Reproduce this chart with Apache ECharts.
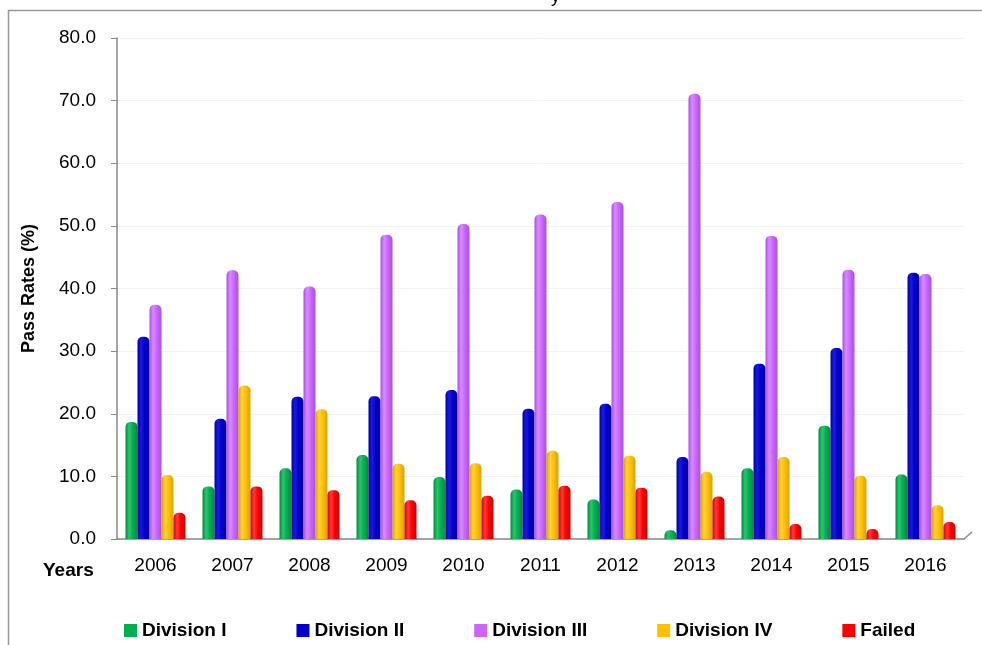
<!DOCTYPE html>
<html><head><meta charset="utf-8">
<script src="https://cdn.jsdelivr.net/npm/echarts@6/dist/echarts.min.js"></script>
<style>html,body{margin:0;padding:0;background:#fff}#c{width:982px;height:645px}</style>
</head><body><div id="c"></div>
<script>
var years = ['2006','2007','2008','2009','2010','2011','2012','2013','2014','2015','2016'];
var yTicks = [0,10,20,30,40,50,60,70,80];
var seriesNames = ['Division I','Division II','Division III','Division IV','Failed'];
var divisionI   = [18.7, 8.4, 11.3, 13.4, 9.9, 7.9, 6.3, 1.4, 11.3, 18.1, 10.3];
var divisionII  = [32.3, 19.2, 22.7, 22.8, 23.8, 20.8, 21.6, 13.1, 28.0, 30.5, 42.5];
var divisionIII = [37.4, 42.9, 40.3, 48.6, 50.3, 51.8, 53.8, 71.1, 48.4, 43.0, 42.3];
var divisionIV  = [10.2, 24.5, 20.7, 12.0, 12.1, 14.1, 13.3, 10.7, 13.1, 10.1, 5.4];
var failed      = [4.2, 8.4, 7.8, 6.2, 6.9, 8.5, 8.2, 6.8, 2.4, 1.6, 2.7];
var colors = ['#00B050','#0000CC','#CC66FF','#FFC000','#FF0000'];
var dark = ['#008A40','#0000A0','#A850DD','#D9A300','#CC0000'];
var light = ['#2EC46E','#1A1AE0','#D98CFF','#FFD140','#FF3A3A'];
var allData = [divisionI, divisionII, divisionIII, divisionIV, failed];

function grad(i){
  return new echarts.graphic.LinearGradient(0,0,1,0,[
    {offset:0,color:dark[i]},{offset:0.3,color:light[i]},{offset:0.6,color:colors[i]},{offset:1,color:dark[i]}]);
}

var chart = echarts.init(document.getElementById('c'));
var series = seriesNames.map(function(n,i){
  return {name:n,type:'bar',data:allData[i],barWidth:12,barGap:'0%',
    itemStyle:{color:grad(i),borderRadius:[5,5,0,0]}};
});
chart.setOption({
  animation:false,
  color:colors,
  grid:{left:117,right:18,top:38,bottom:106},
  legend:{data:seriesNames.map(function(n,i){return {name:n,itemStyle:{color:colors[i]}};}),
    left:119,top:616,icon:'rect',itemWidth:13,itemHeight:13,itemGap:70,
    textStyle:{fontFamily:'Liberation Sans, Arial, sans-serif',fontWeight:'bold',fontSize:19,color:'#000'}},
  xAxis:{type:'category',data:years,
    axisLine:{lineStyle:{color:'#888',width:1.5}},
    axisTick:{alignWithLabel:false,length:7,lineStyle:{color:'#888'}},
    axisLabel:{margin:17,color:'#000',fontSize:19,fontFamily:'Liberation Sans, Arial, sans-serif'}},
  yAxis:{type:'value',min:0,max:80,interval:10,
    name:'Pass Rates (%)',nameLocation:'middle',nameGap:79,
    nameTextStyle:{fontWeight:'bold',fontSize:18,color:'#000',fontFamily:'Liberation Sans, Arial, sans-serif'},
    axisLine:{show:true,lineStyle:{color:'#888',width:1.5}},
    axisTick:{show:true,length:6,lineStyle:{color:'#888'}},
    splitLine:{show:true,lineStyle:{color:'#f2f2f2'}},
    axisLabel:{margin:21,color:'#000',fontSize:19,fontFamily:'Liberation Sans, Arial, sans-serif',
      formatter:function(v){return v.toFixed(1);}}},
  graphic:[
    {type:'rect',shape:{x:8.5,y:10.5,width:1000,height:700},style:{fill:'none',stroke:'#999',lineWidth:1.5},silent:true},
    {type:'text',left:43,top:561,style:{text:'Years',fontWeight:'bold',fontSize:19,fill:'#000',fontFamily:'Liberation Sans, Arial, sans-serif'}},
    {type:'text',left:551,top:-12,style:{text:'y',fontSize:18,fill:'#000',fontFamily:'Liberation Sans, Arial, sans-serif'}},
    {type:'line',shape:{x1:964,y1:539,x2:972,y2:532},style:{stroke:'#888',lineWidth:1.5}}
  ],
  series:series
});
</script></body></html>
